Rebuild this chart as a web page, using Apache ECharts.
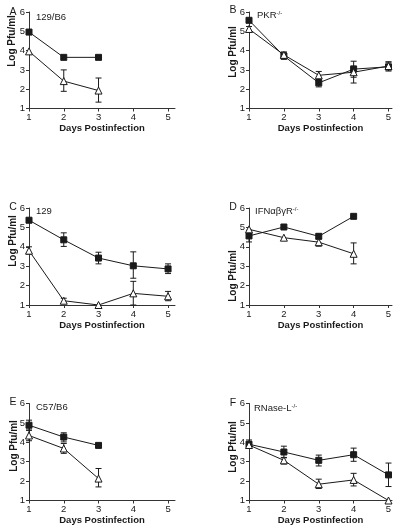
<!DOCTYPE html>
<html>
<head>
<meta charset="utf-8">
<script src="https://cdn.jsdelivr.net/npm/echarts@6/dist/echarts.min.js"></script>
<style>html,body{margin:0;padding:0;background:#fff;}#c{width:405px;height:532px;}</style>
</head>
<body>
<div id="c"></div>
<script>
// Days postinfection
const days = [1, 2, 3, 4, 5];
const yTicks = [1, 2, 3, 4, 5, 6];
const panelLetters = ['A', 'B', 'C', 'D', 'E', 'F'];
const panelTitles = ['129/B6', 'PKR{s|-/-}', '129', 'IFNαβγR{s|-/-}', 'C57/B6', 'RNase-L{s|-/-}'];

// Panel A (129/B6)
const aSq = [4.96, 3.65, 3.65];
const aSqLo = [4.88, null, null];
const aSqHi = [5.05, null, null];
const aTri = [3.96, 2.42, 1.93];
const aTriLo = [null, 1.89, 1.33];
const aTriHi = [null, 3.0, 2.58];

// Panel B (PKR-/-)
const bSq = [5.57, 3.72, 2.33, 3.04, 3.16];
const bSqLo = [null, 3.55, 2.12, 2.62, 2.94];
const bSqHi = [null, 3.92, 2.53, 3.45, 3.42];
const bTri = [5.12, 3.78, 2.72, 2.88, 3.2];
const bTriLo = [5.0, 3.65, 2.5, 2.32, 3.0];
const bTriHi = [5.25, 3.92, 2.92, 3.2, 3.4];

// Panel C (129)
const cSq = [5.37, 4.36, 3.42, 3.02, 2.86];
const cSqLo = [null, 4.02, 3.12, 2.38, 2.62];
const cSqHi = [null, 4.72, 3.72, 3.74, 3.12];
const cTri = [3.8, 1.22, 1.0, 1.6, 1.45];
const cTriLo = [3.62, 1.08, null, 1.0, 1.22];
const cTriHi = [4.0, 1.35, null, 2.22, 1.7];

// Panel D (IFNabgR-/-)
const dSq = [4.56, 5.02, 4.54, 5.57];
const dSqLo = [4.25, null, 4.42, null];
const dSqHi = [4.85, null, 4.66, null];
const dTri = [4.9, 4.47, 4.24, 3.64];
const dTriLo = [null, null, 4.03, 3.12];
const dTriHi = [null, null, 4.42, 4.2];

// Panel E (C57/B6)
const eSq = [4.88, 4.27, 3.84];
const eSqLo = [4.63, 4.02, null];
const eSqHi = [5.14, 4.49, null];
const eTri = [4.35, 3.68, 2.13];
const eTriLo = [4.08, 3.43, 1.7];
const eTriHi = [4.62, 3.94, 2.65];

// Panel F (RNase-L-/-)
const fSq = [3.9, 3.5, 3.07, 3.36, 2.32];
const fSqLo = [3.68, 3.2, 2.78, 3.02, 1.72];
const fSqHi = [4.12, 3.8, 3.34, 3.7, 2.93];
const fTri = [3.86, 3.07, 1.84, 2.06, 1.0];
const fTriLo = [3.7, 2.88, 1.62, 1.75, null];
const fTriHi = [4.02, 3.22, 2.1, 2.4, null];

const sqSets = [[aSq, aSqLo, aSqHi], [bSq, bSqLo, bSqHi], [cSq, cSqLo, cSqHi], [dSq, dSqLo, dSqHi], [eSq, eSqLo, eSqHi], [fSq, fSqLo, fSqHi]];
const triSets = [[aTri, aTriLo, aTriHi], [bTri, bTriLo, bTriHi], [cTri, cTriLo, cTriHi], [dTri, dTriLo, dTriHi], [eTri, eTriLo, eTriHi], [fTri, fTriLo, fTriHi]];

// layout
const colLeft = [29, 249];
const colWidth = [146, 143];
const colMax = [5.2, 5.1];
const rowTop = [12, 208, 403.5];
const rowHeight = [96.5, 97, 97];
const yNamePos = [[12, 41], [233, 52], [13, 241], [233, 276], [14, 446], [233, 447]];
const letterPos = [[13, 12], [233, 10.5], [13, 207.5], [233, 207], [13, 402.5], [233, 403]];
const titlePos = [[36, 17], [257, 15.5], [36, 211.5], [255, 211.5], [36, 407], [254, 408]];

const FONT = 'Liberation Sans, Arial, Helvetica, sans-serif';
const INK = '#1a1a1a';

const grids = [], xAxes = [], yAxes = [], series = [], graphics = [];

function errRender(params, api) {
  const x = api.value(0), lo = api.value(1), hi = api.value(2);
  const p1 = api.coord([x, lo]), p2 = api.coord([x, hi]);
  const w = 3;
  const st = { stroke: INK, lineWidth: 1 };
  return {
    type: 'group',
    children: [
      { type: 'line', shape: { x1: p1[0], y1: p1[1], x2: p2[0], y2: p2[1] }, style: st },
      { type: 'line', shape: { x1: p1[0] - w, y1: p1[1], x2: p1[0] + w, y2: p1[1] }, style: st },
      { type: 'line', shape: { x1: p2[0] - w, y1: p2[1], x2: p2[0] + w, y2: p2[1] }, style: st }
    ]
  };
}

for (let i = 0; i < 6; i++) {
  const col = i % 2, row = Math.floor(i / 2);
  grids.push({ left: colLeft[col], top: rowTop[row], width: colWidth[col], height: rowHeight[row] });
  xAxes.push({
    gridIndex: i, type: 'value', min: 1, max: colMax[col],
    name: 'Days Postinfection', nameLocation: 'middle', nameGap: 14,
    nameTextStyle: { fontFamily: FONT, fontSize: 9.5, fontWeight: 'bold', color: INK },
    axisLine: { show: true, lineStyle: { color: '#333', width: 1 } },
    axisTick: { show: true, length: 3, customValues: days, lineStyle: { color: '#333' } },
    axisLabel: { customValues: days, margin: 4, fontFamily: FONT, fontSize: 9.5, color: INK },
    splitLine: { show: false }
  });
  yAxes.push({
    gridIndex: i, type: 'value', min: 1, max: 6, interval: 1,
    axisLine: { show: true, lineStyle: { color: '#333', width: 1 } },
    axisTick: { show: true, length: 3, lineStyle: { color: '#333' } },
    axisLabel: { margin: 4, fontFamily: FONT, fontSize: 9.5, color: INK },
    splitLine: { show: false }
  });

  const sets = [[sqSets[i], 'rect', 6, INK], [triSets[i], 'triangle', 7, '#fff']];
  sets.forEach(([set, sym, size, fill]) => {
    const [vals, lo, hi] = set;
    series.push({
      type: 'line', xAxisIndex: i, yAxisIndex: i,
      data: vals.map((v, k) => [days[k], v]),
      symbol: sym, symbolSize: size, showSymbol: true,
      lineStyle: { color: INK, width: 1 },
      itemStyle: { color: fill, borderColor: INK, borderWidth: 1 },
      z: 3, animation: false, silent: true, clip: false
    });
    const err = [];
    vals.forEach((v, k) => { if (lo[k] != null && hi[k] != null) err.push([days[k], lo[k], hi[k]]); });
    series.push({
      type: 'custom', xAxisIndex: i, yAxisIndex: i, renderItem: errRender,
      data: err, z: 2, animation: false, silent: true, clip: false
    });
  });

  graphics.push({
    type: 'text', x: yNamePos[i][0], y: yNamePos[i][1], rotation: Math.PI / 2,
    style: { text: 'Log Pfu/ml', fontFamily: FONT, fontSize: 10, fontWeight: 'bold', fill: INK, align: 'center', verticalAlign: 'middle' }
  });
  graphics.push({
    type: 'text', x: letterPos[i][0], y: letterPos[i][1],
    style: { text: panelLetters[i], fontFamily: FONT, fontSize: 10.5, fill: INK, align: 'center', verticalAlign: 'middle' }
  });
  graphics.push({
    type: 'text', x: titlePos[i][0], y: titlePos[i][1],
    style: {
      text: panelTitles[i], fontFamily: FONT, fontSize: 9.5, fill: INK, align: 'left', verticalAlign: 'middle',
      rich: { s: { fontFamily: FONT, fontSize: 6, fill: INK, verticalAlign: 'top', lineHeight: 6, padding: [0, 0, 4, 0] } }
    }
  });
}

const chart = echarts.init(document.getElementById('c'), null, { renderer: 'canvas' });
chart.setOption({
  animation: false,
  backgroundColor: '#fff',
  grid: grids, xAxis: xAxes, yAxis: yAxes, series: series, graphic: graphics
});
</script>
</body>
</html>
